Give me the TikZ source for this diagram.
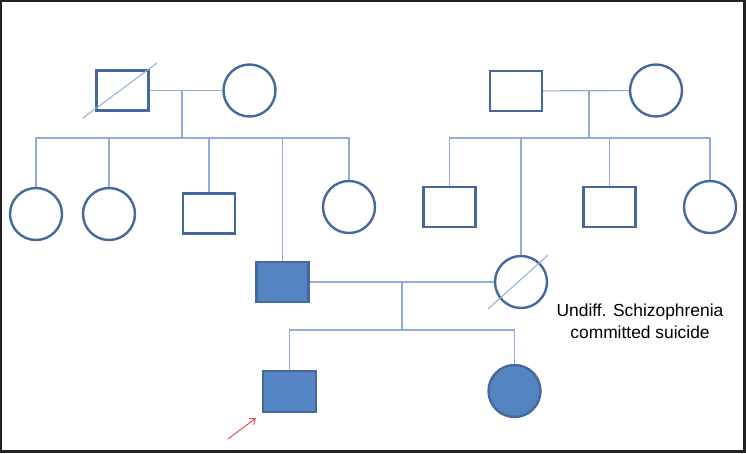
\documentclass[tikz,border=0pt]{standalone}
\usepackage{fontspec}
\usepackage{tikz}
\usetikzlibrary{calc,positioning,arrows.meta}
\newfontfamily\labelfont{Liberation Sans}
\definecolor{pedline}{HTML}{44699A}
\definecolor{pedlink}{HTML}{8FADD8}
\definecolor{pedfill}{HTML}{5485C2}
\definecolor{pointred}{HTML}{E04545}
\definecolor{frame}{HTML}{222222}

\begin{document}
\begin{tikzpicture}[x=1pt, y=-1pt]
    \tikzset{
      male/.style={rectangle, draw=pedline, line width=2.4pt, minimum width=52pt, minimum height=40pt, inner sep=0pt},
      female/.style={circle, draw=pedline, line width=2.4pt, minimum size=52pt, inner sep=0pt},
      affected/.style={fill=pedfill},
      ln/.style={draw=pedlink, line width=1.2pt},
      slash/.style={draw=pedlink, line width=1pt}}
    \useasboundingbox (0, 0) rectangle (746, 453);
    \fill[frame] (0, 0) rectangle (746, 453);
    \fill[white] (2, 2) rectangle (743, 450);
    % first generation, left
    \node[male] at (122.5, 90.5) (gfa) {};
    \node[female] at (249.5, 90.5) (gma) {};
    % first generation, right
    \node[male] at (516, 91) (gfb) {};
    \node[female] at (656, 90.5) (gmb) {};
    % second generation, left
    \node[female] at (36, 214) (aunta) {};
    \node[female] at (109, 214) (auntb) {};
    \node[male] at (209, 213.5) (uncla) {};
    \node[female] at (349, 207) (auntc) {};
    \node[male, affected] at (282.5, 282) (father) {};
    % second generation, right
    \node[male] at (449.5, 207) (unclb) {};
    \node[male] at (609.5, 207) (unclc) {};
    \node[female] at (710, 207) (auntd) {};
    \node[female] at (521, 282) (mother) {};
    % third generation
    \node[male, affected, minimum width=53pt, minimum height=41pt] at (289.5, 391.5) (proband) {};
    \node[female, affected] at (514.5, 391) (sister) {};
    \coordinate (mra) at (182, 90.5);
    \coordinate (siba) at (182, 138);
    \coordinate (mrb) at (589, 90.5);
    \coordinate (sibb) at (589, 138);
    \coordinate (mrc) at (402, 282);
    \coordinate (sibc) at (402, 330);
    \draw[ln] (gfa) -- (gma);
    \draw[ln] (mra) -- (siba);
    \draw[ln] (aunta.north) |- (siba) -| (auntc.north);
    \foreach \k in {auntb, uncla, father}
      \draw[ln] (\k.north) -- (\k |- siba);
    \draw[ln] (gfb) -- (gmb);
    \draw[ln] (mrb) -- (sibb);
    \draw[ln] (unclb.north) |- (sibb) -| (auntd.north);
    \foreach \k in {mother, unclc}
      \draw[ln] (\k.north) -- (\k |- sibb);
    \draw[ln] (father) -- (mother);
    \draw[ln] (mrc) -- (sibc);
    \draw[ln] (proband.north) |- (sibc) -| (sister.north);
    % deceased
    \draw[slash] ($(gfa.center)+(-39.5, 27.5)$) -- ($(gfa.center)+(34.5, -27.5)$);
    \draw[slash] ($(mother.center)+(-33, 27)$) -- ($(mother.center)+(27, -27)$);
    \node[align=center, font=\labelfont\fontsize{17.4}{22}\selectfont] at (640, 321) (note) {Undiff. Schizophrenia\\committed suicide};
    \coordinate (pointer) at ($(proband.south west)+(-34, 26)$);
    \draw[-{Straight Barb[length=5pt, width=8pt]}, pointred, line width=0.9pt] (pointer) -- ($(proband.south west)+(-6, 5)$);
  \end{tikzpicture}
\end{document}
